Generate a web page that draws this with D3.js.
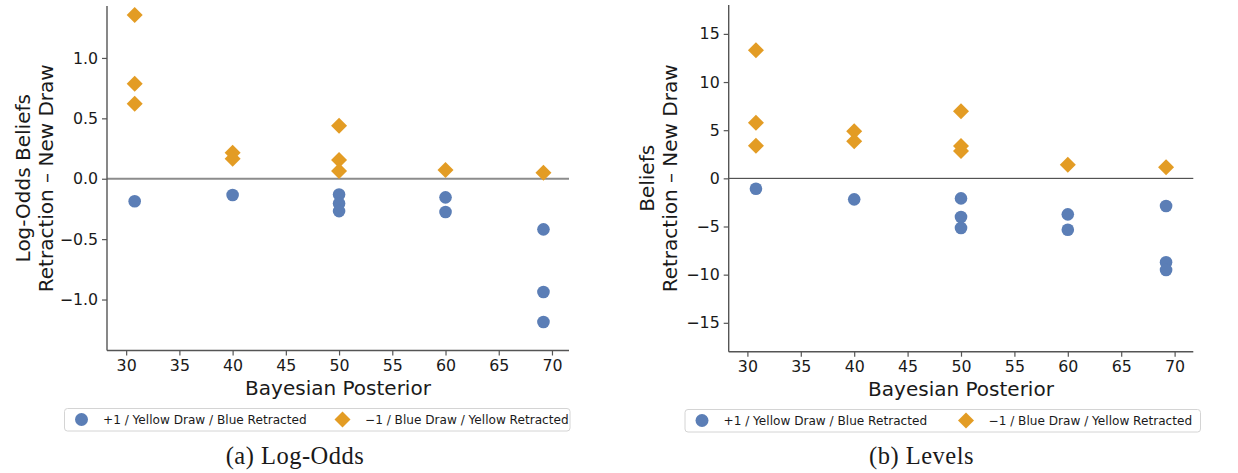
<!DOCTYPE html>
<html>
<head>
<meta charset="utf-8">
<script src="https://cdn.jsdelivr.net/npm/d3@7"></script>
<style>
  html, body { margin: 0; padding: 0; background: #fff; }
  svg { display: block; }
  text { font-family: "DejaVu Sans", sans-serif; fill: #1a1a1a; }
  .caption { font-family: "Liberation Serif", "Times New Roman", serif; }
</style>
</head>
<body>
<svg id="chart" width="1238" height="473"></svg>
<script>
// ---------- data ----------
const xTicks = [30, 35, 40, 45, 50, 55, 60, 65, 70];

// (a) Log-Odds
const logBlueX   = [30.8, 40, 50, 50, 50, 60, 60, 69.2, 69.2, 69.2];
const logBlueY   = [-0.187, -0.135, -0.13, -0.205, -0.268, -0.154, -0.276, -0.419, -0.938, -1.186];
const logOrangeX = [30.8, 30.8, 30.8, 40, 40, 50, 50, 50, 60, 69.2];
const logOrangeY = [1.355, 0.787, 0.62, 0.215, 0.165, 0.439, 0.155, 0.064, 0.072, 0.05];
const logYTicks  = [-1.0, -0.5, 0.0, 0.5, 1.0];

// (b) Levels
const lvlBlueX   = [30.8, 40, 50, 50, 50, 60, 60, 69.2, 69.2, 69.2];
const lvlBlueY   = [-1.08, -2.18, -2.08, -4.01, -5.16, -3.74, -5.33, -2.87, -8.71, -9.51];
const lvlOrangeX = [30.8, 30.8, 30.8, 40, 40, 50, 50, 50, 60, 69.2];
const lvlOrangeY = [13.3, 5.77, 3.38, 4.9, 3.84, 6.98, 3.35, 2.83, 1.41, 1.14];
const lvlYTicks  = [-15, -10, -5, 0, 5, 10, 15];

const legendLabels = ["+1 / Yellow Draw / Blue Retracted", "\u22121 / Blue Draw / Yellow Retracted"];
const xLabel = "Bayesian Posterior";

// ---------- style ----------
const BLUE = "#5b7eb6";
const ORANGE = "#e39c24";
const AXIS = "#555";

const svg = d3.select("#chart");
const fmtMinus = s => String(s).replace("-", "\u2212");

function panel(cfg) {
  const g = svg.append("g");
  const x = d3.scaleLinear().domain(cfg.xDomain).range([cfg.left, cfg.right]);
  const y = d3.scaleLinear().domain(cfg.yDomain).range([cfg.bottom, cfg.top]);

  // zero line
  g.append("line")
    .attr("x1", cfg.left).attr("x2", cfg.right)
    .attr("y1", y(0)).attr("y2", y(0))
    .attr("stroke", cfg.zeroColor).attr("stroke-width", cfg.zeroWidth);

  // axes
  const xAxis = d3.axisBottom(x).tickValues(xTicks).tickSize(5).tickPadding(4)
    .tickFormat(d3.format("d"));
  const yAxis = d3.axisLeft(y).tickValues(cfg.yTicks).tickSize(5).tickPadding(4)
    .tickFormat(d => fmtMinus(cfg.yFormat(d)));

  const gx = g.append("g").attr("transform", `translate(0,${cfg.bottom})`).call(xAxis);
  const gy = g.append("g").attr("transform", `translate(${cfg.left},0)`).call(yAxis);
  [gx, gy].forEach(a => {
    a.select(".domain").attr("stroke", AXIS).attr("stroke-width", 1.4);
    a.selectAll(".tick line").attr("stroke", AXIS).attr("stroke-width", 1.2);
    a.selectAll(".tick text").attr("font-size", 15.8).attr("fill", "#1a1a1a")
      .attr("font-family", "DejaVu Sans");
  });
  gx.select(".domain").attr("d", `M${cfg.left},0H${cfg.right}`);
  gy.select(".domain").attr("d", `M0,${cfg.top}V${cfg.bottom}`);

  // points
  g.append("g").selectAll("circle")
    .data(cfg.blueX.map((d, i) => [d, cfg.blueY[i]]))
    .join("circle")
    .attr("cx", d => x(d[0])).attr("cy", d => y(d[1]))
    .attr("r", 6.3).attr("fill", BLUE);

  const diamond = d3.symbol().type(d3.symbolSquare).size(128);
  g.append("g").selectAll("path")
    .data(cfg.orangeX.map((d, i) => [d, cfg.orangeY[i]]))
    .join("path")
    .attr("d", diamond)
    .attr("transform", d => `translate(${x(d[0])},${y(d[1])}) rotate(45)`)
    .attr("fill", ORANGE);

  // axis labels
  const cx = (cfg.left + cfg.right) / 2;
  g.append("text").attr("x", cx).attr("y", cfg.bottom + 44.5)
    .attr("text-anchor", "middle").attr("font-size", 20).text(xLabel);

  const cy = (cfg.top + cfg.bottom) / 2;
  const yl = g.append("text").attr("transform", `translate(${cfg.yLabelX},${cy}) rotate(-90)`)
    .attr("text-anchor", "middle").attr("font-size", 20);
  yl.append("tspan").attr("x", 0).attr("y", 0).text(cfg.yLabel1);
  yl.append("tspan").attr("x", 0).attr("y", 22.5).text("Retraction \u2013 New Draw");

  // legend
  const lg = g.append("g");
  lg.append("rect").attr("x", cfg.legX).attr("y", cfg.legY)
    .attr("width", cfg.legW).attr("height", 22.5).attr("rx", 3)
    .attr("fill", "#fff").attr("stroke", "#d4d4d4").attr("stroke-width", 1);
  const my = cfg.legY + 11;
  lg.append("circle").attr("cx", cfg.legX + 17).attr("cy", my).attr("r", 6.5).attr("fill", BLUE);
  lg.append("text").attr("x", cfg.legX + 38.5).attr("y", my + 4.5)
    .attr("font-size", 12.1).text(legendLabels[0]);
  lg.append("path").attr("d", diamond)
    .attr("transform", `translate(${cfg.legX + cfg.legD},${my}) rotate(45)`).attr("fill", ORANGE);
  lg.append("text").attr("x", cfg.legX + cfg.legD + 22.5).attr("y", my + 4.5)
    .attr("font-size", 12.1).text(legendLabels[1]);

  // caption
  svg.append("text").attr("class", "caption")
    .attr("x", cfg.capX).attr("y", 464)
    .attr("text-anchor", "middle").attr("font-size", 24.5).attr("letter-spacing", 0.5)
    .text(cfg.caption);
}

panel({
  left: 107, right: 569, top: 6, bottom: 350.5,
  xDomain: [28.2, 71.6], yDomain: [-1.422, 1.43],
  yTicks: logYTicks, yFormat: d3.format(".1f"),
  blueX: logBlueX, blueY: logBlueY, orangeX: logOrangeX, orangeY: logOrangeY,
  zeroColor: "#8c8c8c", zeroWidth: 1.8,
  yLabelX: 30, yLabel1: "Log-Odds Beliefs",
  legX: 64.5, legY: 408.5, legW: 505.5, legD: 278,
  capX: 295, caption: "(a) Log-Odds"
});

panel({
  left: 728.7, right: 1193.3, top: 5, bottom: 351.7,
  xDomain: [28.25, 71.75], yDomain: [-18, 18],
  yTicks: lvlYTicks, yFormat: d3.format("d"),
  blueX: lvlBlueX, blueY: lvlBlueY, orangeX: lvlOrangeX, orangeY: lvlOrangeY,
  zeroColor: "#333", zeroWidth: 1,
  yLabelX: 654, yLabel1: "Beliefs",
  legX: 685, legY: 409.5, legW: 515.5, legD: 281,
  capX: 921.5, caption: "(b) Levels"
});
</script>
</body>
</html>
